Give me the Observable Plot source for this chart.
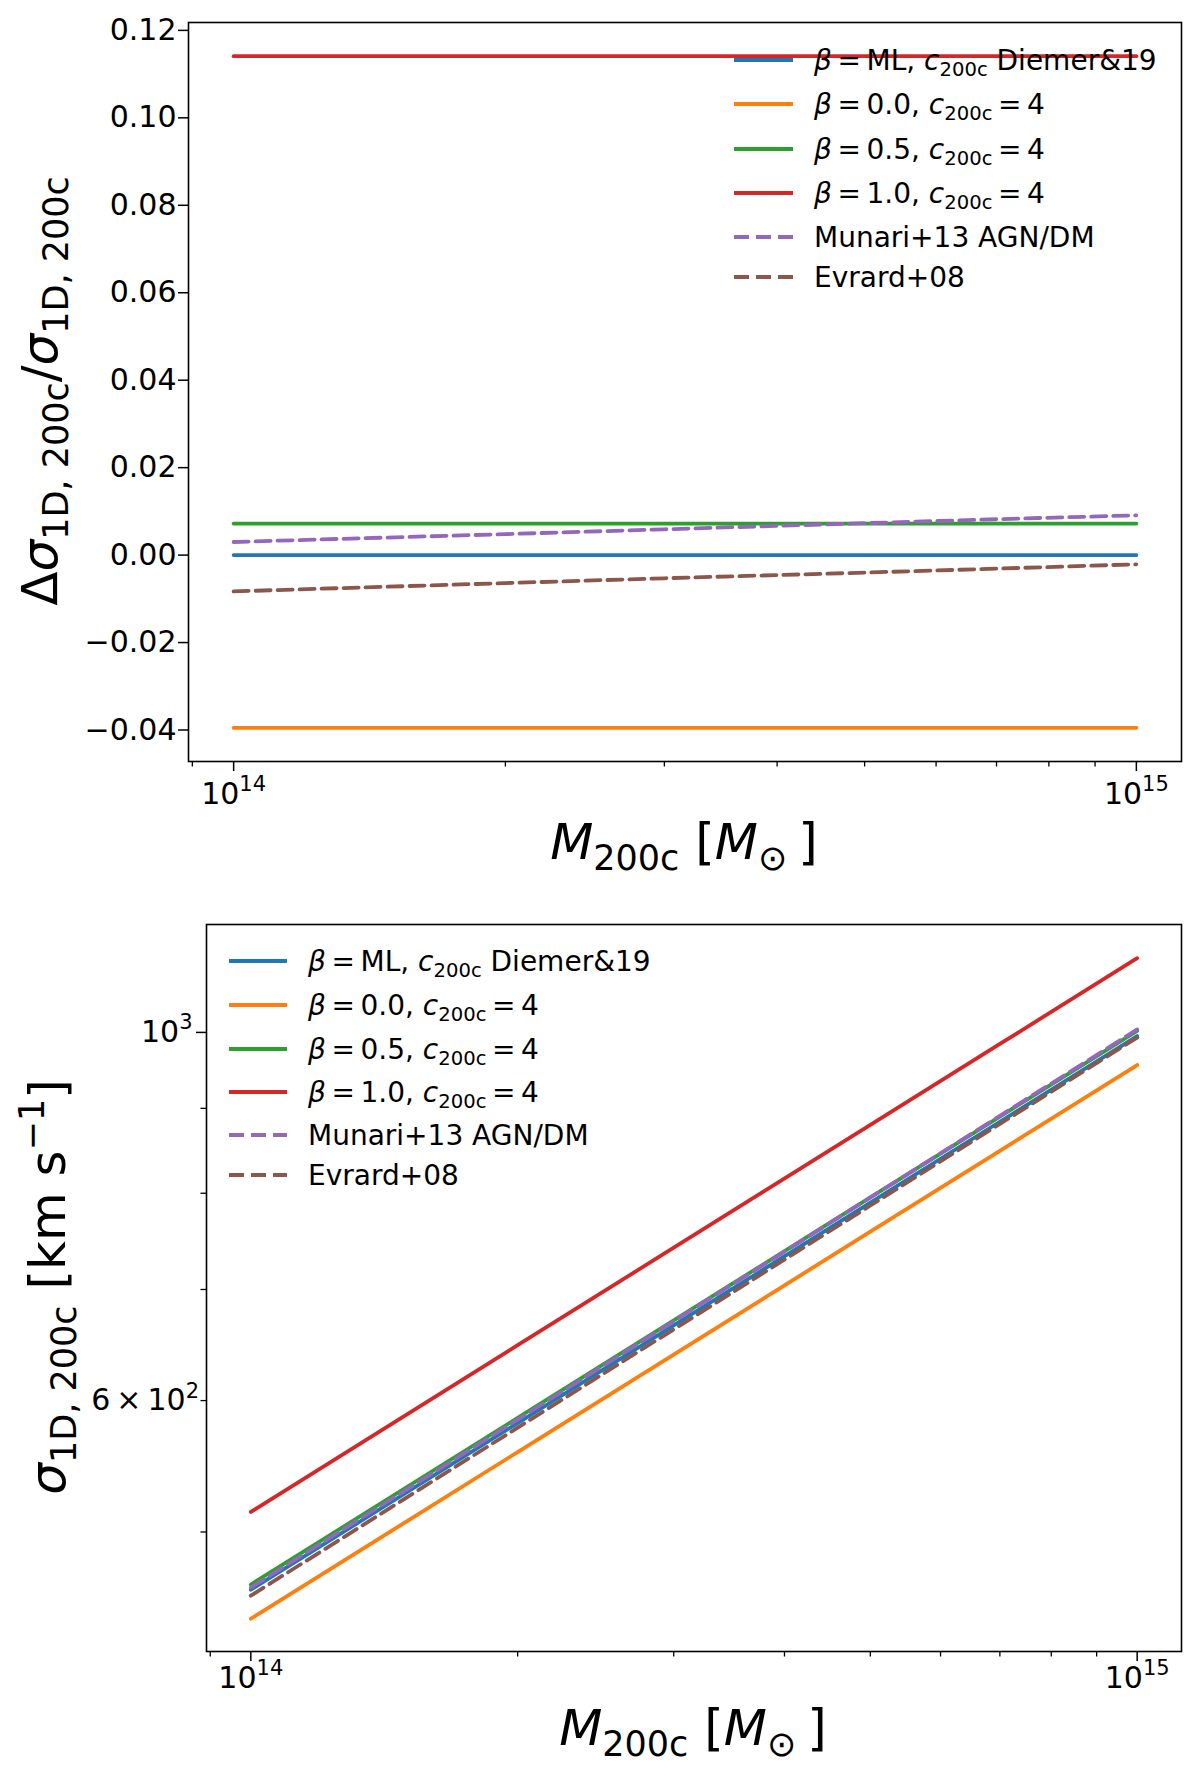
<!DOCTYPE html>
<html>
<head>
<meta charset="utf-8">
<script src="https://cdn.jsdelivr.net/npm/d3@7"></script>
<script src="https://cdn.jsdelivr.net/npm/@observablehq/plot@0.6"></script>
<style>
  html, body { margin: 0; padding: 0; background: #fff; overflow: hidden; }
  #chart svg { display: block; }
</style>
</head>
<body>
<div id="chart"></div>
<script>
// halo mass M200c [Msun]
const MASS = [1e14, 2e14, 3e14, 5e14, 7e14, 1e15];

const SERIES = ["ml", "b00", "b05", "b10", "munari", "evrard"];
const COLORS = ["#1f77b4", "#ff7f0e", "#2ca02c", "#d62728", "#9467bd", "#8c564b"];
const DASHED = [false, false, false, false, true, true];

// top panel: fractional offset from the beta = ML model
const DELTA_ML     = [0, 0, 0, 0, 0, 0];
const DELTA_B00    = [-0.0395, -0.0395, -0.0395, -0.0395, -0.0395, -0.0395];
const DELTA_B05    = [0.0072, 0.0072, 0.0072, 0.0072, 0.0072, 0.0072];
const DELTA_B10    = [0.1141, 0.1141, 0.1141, 0.1141, 0.1141, 0.1141];
const DELTA_MUNARI = [0.0030, 0.0048, 0.0059, 0.0073, 0.0082, 0.0091];
const DELTA_EVRARD = [-0.0083, -0.0064, -0.0053, -0.0040, -0.0031, -0.0021];

// bottom panel: sigma_1D,200c [km/s]
const SIGMA_ML     = [461.5, 581.6, 665.9, 789.6, 883.4, 995.0];
const SIGMA_B00    = [443.3, 558.6, 639.6, 758.4, 848.5, 955.7];
const SIGMA_B05    = [464.8, 585.8, 670.7, 795.3, 889.8, 1002.2];
const SIGMA_B10    = [514.1, 647.9, 741.8, 879.6, 984.1, 1108.4];
const SIGMA_MUNARI = [462.9, 584.4, 669.8, 795.3, 890.6, 1004.1];
const SIGMA_EVRARD = [457.7, 577.9, 662.3, 786.5, 880.7, 992.9];

// ticks ("^" marks a superscript)
const X_MAJOR = [1e14, 1e15];
const X_MAJOR_LABELS = ["10^14", "10^15"];
const X_MINOR = [9e13, 2e14, 3e14, 4e14, 5e14, 6e14, 7e14, 8e14, 9e14];
const Y_TOP_TICKS = [-0.04, -0.02, 0, 0.02, 0.04, 0.06, 0.08, 0.10, 0.12];
const Y_BOT_MAJOR = [1000];
const Y_BOT_MAJOR_LABELS = ["10^3"];
const Y_BOT_MINOR_LABELED = [600];
const Y_BOT_MINOR_LABELS = ["6\u2009×\u200910^2"];
const Y_BOT_MINOR = [500, 700, 800, 900];

// rich-text pieces: [text, kind]  kind: i = italic, sub, sup
const LEGEND_LABELS = [
  [["β", "i"], ["\u2009=\u2009ML, "], ["c", "i"], ["200c", "sub"], [" Diemer&19"]],
  [["β", "i"], ["\u2009=\u20090.0, "], ["c", "i"], ["200c", "sub"], ["\u2009=\u20094"]],
  [["β", "i"], ["\u2009=\u20090.5, "], ["c", "i"], ["200c", "sub"], ["\u2009=\u20094"]],
  [["β", "i"], ["\u2009=\u20091.0, "], ["c", "i"], ["200c", "sub"], ["\u2009=\u20094"]],
  [["Munari+13 AGN/DM"]],
  [["Evrard+08"]],
];
const X_TITLE = [["M", "i"], ["200c", "sub"], [" ["], ["M", "i"], ["⊙ ", "sub"], ["]"]];
const Y_TITLE_TOP = [["Δ"], ["σ", "i"], ["1D, 200c", "sub"], ["/"], ["σ", "i"], ["1D, 200c", "sub"]];
const Y_TITLE_BOT = [["σ", "i"], ["1D, 200c", "sub"], [" [km s"], ["−1", "sup"], ["]"]];

(() => {
const DELTA = [DELTA_ML, DELTA_B00, DELTA_B05, DELTA_B10, DELTA_MUNARI, DELTA_EVRARD];
const SIGMA = [SIGMA_ML, SIGMA_B00, SIGMA_B05, SIGMA_B10, SIGMA_MUNARI, SIGMA_EVRARD];

const toRows = (table) => SERIES.flatMap((name, k) =>
  MASS.map((m, i) => ({series: name, mass: m, value: table[k][i]})));

const DASH = "15,7";
const LW = 3.8;

const lineMarks = (rows) => SERIES.map((name, k) =>
  Plot.line(rows.filter(r => r.series === name), {
    x: "mass", y: "value",
    stroke: COLORS[k], strokeWidth: LW,
    strokeDasharray: DASHED[k] ? DASH : undefined,
  }));

const xLabel = new Map(X_MAJOR.map((v, i) => [v, X_MAJOR_LABELS[i]]));
const xAxes = (pad) => [
  Plot.axisX(X_MINOR, {tickSize: 5.5, tickFormat: () => "", label: null, strokeWidth: 1.3}),
  Plot.axisX(X_MAJOR, {tickSize: 10, tickPadding: pad, tickFormat: d => xLabel.get(d), label: null, strokeWidth: 1.5}),
];

const baseStyle = {fontFamily: "DejaVu Sans", fontSize: "30px", color: "black", background: "white", overflow: "visible"};

function rich(text, parts, fs) {
  let shift = 0;
  for (const [t, kind = ""] of parts) {
    const target = kind === "sub" ? 0.22 * fs : kind === "sup" ? -0.42 * fs : 0;
    const ts = text.append("tspan").text(t);
    if (target !== shift) ts.attr("dy", target - shift);
    shift = target;
    if (kind === "i") ts.attr("font-style", "italic");
    if (kind === "sub" || kind === "sup") ts.attr("font-size", 0.7 * fs);
  }
}

// turn "10^14" tick labels into a base plus raised exponent
function superscriptTicks(svg, fs) {
  d3.select(svg).selectAll("text").each(function () {
    const m = this.textContent.match(/^(.*)\^(.+)$/);
    if (!m) return;
    const t = d3.select(this).text("");
    rich(t, [[m[1]], [m[2], "sup"]], fs);
  });
}

function addLegend(svg, x1, x2, tx, ys) {
  const g = d3.select(svg).append("g").attr("text-anchor", "start");
  SERIES.forEach((name, k) => {
    g.append("line")
      .attr("x1", x1).attr("x2", x2).attr("y1", ys[k]).attr("y2", ys[k])
      .attr("stroke", COLORS[k]).attr("stroke-width", LW)
      .attr("stroke-dasharray", DASHED[k] ? DASH : null);
    const t = g.append("text")
      .attr("x", tx).attr("y", ys[k] + 10)
      .attr("text-anchor", "start")
      .attr("font-size", 28).attr("fill", "black")
      .style("white-space", "pre");
    rich(t, LEGEND_LABELS[k], 28);
  });
}

function addTitle(svg, parts, x, y, rotate) {
  const t = d3.select(svg).append("text")
    .attr("transform", `translate(${x},${y})` + (rotate ? " rotate(-90)" : ""))
    .attr("text-anchor", "middle")
    .attr("font-size", 50).attr("fill", "black")
    .style("white-space", "pre");
  rich(t, parts, 50);
}

// ---- top panel ----
const topPanel = Plot.plot({
  width: 1200, height: 880,
  marginLeft: 188, marginRight: 19, marginTop: 22, marginBottom: 119,
  style: baseStyle,
  x: {type: "log", domain: [10 ** 13.95, 10 ** 15.05], label: null},
  y: {domain: [-0.0472, 0.1218], label: null},
  marks: [
    ...lineMarks(toRows(DELTA)),
    Plot.frame({stroke: "black", strokeWidth: 1.6}),
    ...xAxes(11),
    Plot.axisY(Y_TOP_TICKS, {tickSize: 10, tickPadding: 2, tickFormat: d3.format(".2f"), label: null, strokeWidth: 1.5}),
  ],
});
superscriptTicks(topPanel, 30);
addLegend(topPanel, 734, 793, 814, [60, 104, 149, 193, 237, 277]);
addTitle(topPanel, X_TITLE, 684, 859, false);
addTitle(topPanel, Y_TITLE_TOP, 57, 391, true);

// ---- bottom panel ----
const yMajor = new Map(Y_BOT_MAJOR.map((v, i) => [v, Y_BOT_MAJOR_LABELS[i]]));
const yMinor = new Map(Y_BOT_MINOR_LABELED.map((v, i) => [v, Y_BOT_MINOR_LABELS[i]]));
const bottomPanel = Plot.plot({
  width: 1200, height: 897,
  marginLeft: 206, marginRight: 19, marginTop: 44, marginBottom: 126,
  style: baseStyle,
  x: {type: "log", domain: [10 ** 13.95, 10 ** 15.05], label: null},
  y: {type: "log", domain: [423.6, 1161.5], label: null},
  marks: [
    ...lineMarks(toRows(SIGMA)),
    Plot.frame({stroke: "black", strokeWidth: 1.6}),
    ...xAxes(5),
    Plot.axisY(Y_BOT_MINOR, {tickSize: 5.5, tickFormat: () => "", label: null, strokeWidth: 1.3}),
    Plot.axisY(Y_BOT_MINOR_LABELED, {tickSize: 5.5, tickPadding: 2, tickFormat: d => yMinor.get(d), label: null, strokeWidth: 1.3}),
    Plot.axisY(Y_BOT_MAJOR, {tickSize: 10, tickPadding: 4, tickFormat: d => yMajor.get(d), label: null, strokeWidth: 1.5}),
  ],
});
superscriptTicks(bottomPanel, 30);
addLegend(bottomPanel, 229, 287, 308, [81, 125, 169, 212, 255, 295]);
addTitle(bottomPanel, X_TITLE, 693, 865, false);
addTitle(bottomPanel, Y_TITLE_BOT, 65, 407, true);

const chart = document.getElementById("chart");
chart.appendChild(topPanel);
chart.appendChild(bottomPanel);
})();
</script>
</body>
</html>
